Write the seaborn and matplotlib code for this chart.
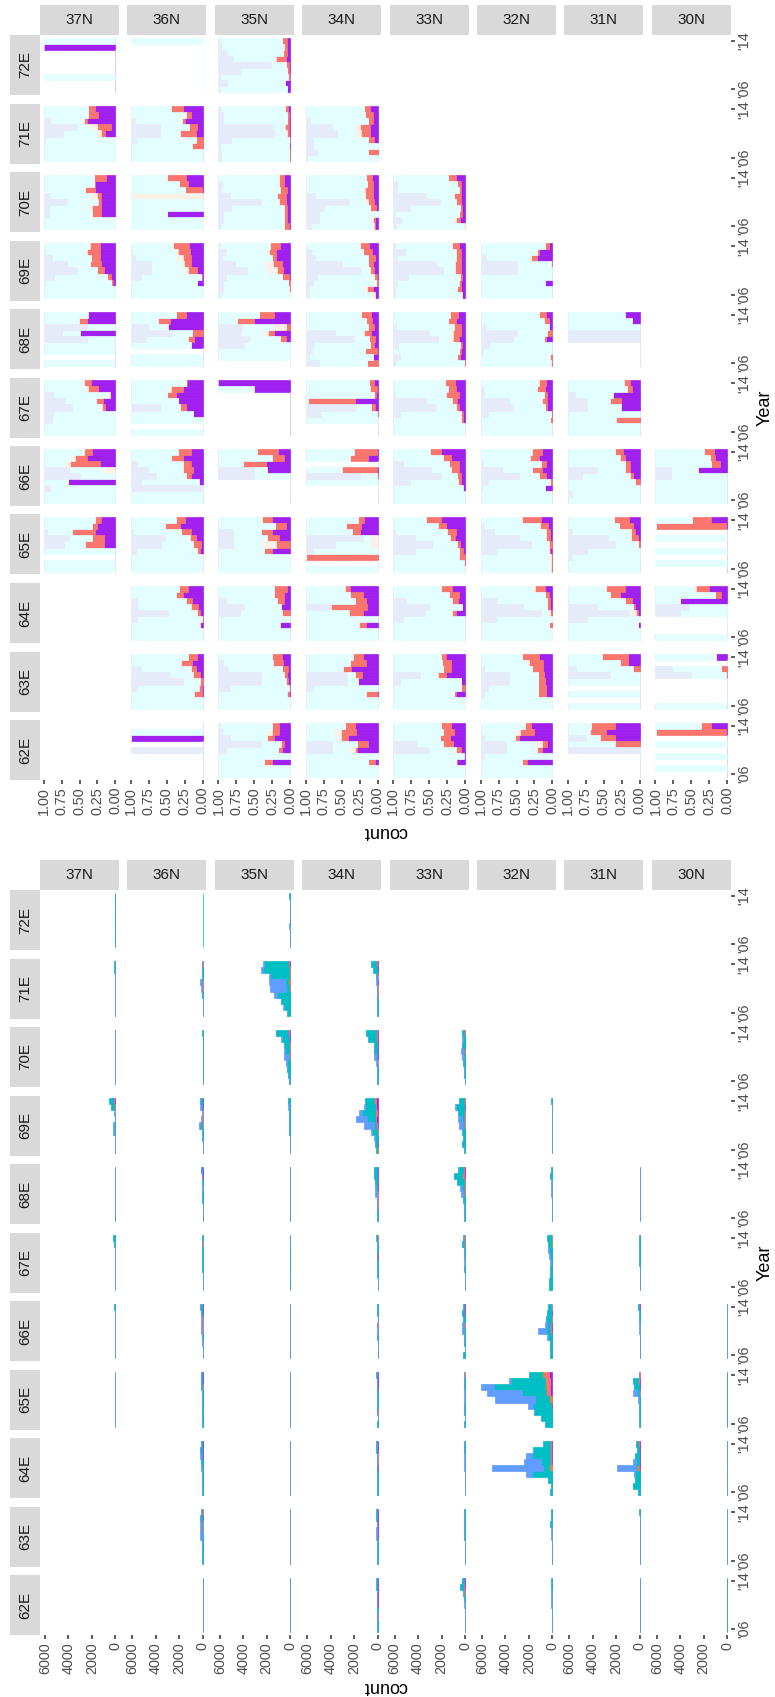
import numpy as np
import pandas as pd
import matplotlib
matplotlib.use("Agg")
import matplotlib.pyplot as plt
import seaborn as sns

sns.set_theme(style="white")
plt.rcParams['font.family'] = ['Liberation Sans', 'DejaVu Sans']

LATS = ["37N", "36N", "35N", "34N", "33N", "32N", "31N", "30N"]
LONS = ["72E", "71E", "70E", "69E", "68E", "67E", "66E", "65E", "64E", "63E", "62E"]
YEARS = [2014, 2013, 2012, 2011, 2010, 2009, 2008, 2007, 2006]
GROUPS = ["g1", "g2", "g3", "g4", "g5"]
COUNT_COLORS = ["#619CFF", "#00BFC4", "#B79F00", "#F8766D", "#A020F0"]
FILL_COLORS = ["#E6EBFA", "#E3FEFE", "#FCF1E6", "#F8766D", "#A020F0"]
COUNT_TICKS = [0, 2000, 4000, 6000]
FILL_TICKS = [0.0, 0.25, 0.5, 0.75, 1.0]

# total count per facet, years 2014 -> 2006
TOTAL = {
    "37N-72E": [3, 2, 0, 0, 0, 0, 2, 0, 0],
    "36N-72E": [2, 0, 0, 0, 0, 0, 0, 0, 0],
    "35N-72E": [90, 60, 50, 40, 60, 70, 30, 30, 20],
    "37N-71E": [120, 100, 40, 30, 30, 20, 20, 20, 20],
    "36N-71E": [80, 40, 40, 200, 150, 30, 20, 20, 15],
    "35N-71E": [2280, 2480, 1800, 1800, 1710, 1370, 790, 575, 290],
    "34N-71E": [540, 430, 120, 120, 90, 80, 36, 27, 18],
    "37N-70E": [60, 40, 40, 40, 40, 40, 40, 20, 20],
    "36N-70E": [30, 20, 20, 5, 10, 10, 10, 10, 10],
    "35N-70E": [1200, 775, 570, 570, 510, 340, 290, 225, 145],
    "34N-70E": [1030, 855, 340, 340, 270, 120, 55, 45, 36],
    "33N-70E": [260, 225, 270, 300, 245, 180, 110, 72, 36],
    "37N-69E": [515, 343, 86, 60, 170, 170, 54, 27, 18],
    "36N-69E": [200, 200, 100, 120, 286, 100, 40, 20, 20],
    "35N-69E": [150, 150, 100, 100, 120, 80, 60, 40, 30],
    "34N-69E": [1115, 1200, 1545, 1830, 1200, 540, 290, 200, 115],
    "33N-69E": [515, 890, 600, 630, 545, 290, 170, 290, 115],
    "32N-69E": [115, 40, 40, 60, 60, 30, 20, 20, 20],
    "37N-68E": [40, 40, 20, 30, 20, 20, 20, 0, 10],
    "36N-68E": [150, 60, 40, 40, 40, 30, 0, 10, 10],
    "35N-68E": [60, 50, 40, 50, 40, 30, 20, 20, 0],
    "34N-68E": [290, 290, 250, 200, 200, 90, 60, 50, 40],
    "33N-68E": [630, 970, 715, 460, 370, 200, 90, 80, 80],
    "32N-68E": [120, 200, 80, 100, 100, 50, 40, 40, 30],
    "31N-68E": [20, 15, 10, 10, 10, 0, 0, 0, 0],
    "37N-67E": [170, 80, 60, 60, 60, 40, 40, 30, 30],
    "36N-67E": [100, 60, 50, 40, 50, 30, 20, 0, 10],
    "35N-67E": [10, 5, 0, 0, 0, 0, 0, 0, 0],
    "34N-67E": [100, 80, 60, 40, 80, 40, 20, 0, 0],
    "33N-67E": [170, 255, 100, 100, 100, 60, 40, 30, 30],
    "32N-67E": [430, 345, 345, 290, 200, 200, 200, 255, 255],
    "31N-67E": [40, 30, 30, 40, 40, 20, 20, 20, 20],
    "37N-66E": [150, 40, 40, 30, 30, 20, 20, 20, 20],
    "36N-66E": [250, 150, 120, 120, 120, 60, 30, 20, 20],
    "35N-66E": [40, 30, 30, 30, 30, 0, 0, 0, 0],
    "34N-66E": [20, 20, 0, 30, 20, 10, 0, 0, 0],
    "33N-66E": [170, 255, 170, 255, 255, 80, 50, 40, 170],
    "32N-66E": [370, 460, 545, 630, 1230, 430, 200, 200, 200],
    "31N-66E": [115, 40, 30, 40, 30, 20, 20, 20, 20],
    "30N-66E": [30, 20, 20, 20, 20, 10, 10, 10, 10],
    "37N-65E": [40, 40, 40, 40, 40, 20, 0, 10, 10],
    "36N-65E": [150, 150, 150, 100, 100, 60, 40, 30, 30],
    "35N-65E": [60, 50, 50, 50, 40, 30, 30, 20, 20],
    "34N-65E": [115, 60, 50, 60, 50, 30, 20, 0, 10],
    "33N-65E": [90, 90, 60, 60, 60, 115, 50, 40, 115],
    "32N-65E": [1970, 3720, 6120, 5600, 4920, 2090, 1545, 970, 630],
    "31N-65E": [90, 600, 515, 600, 115, 60, 40, 30, 30],
    "30N-65E": [20, 15, 0, 5, 0, 5, 0, 5, 0],
    "36N-64E": [150, 200, 200, 150, 150, 80, 50, 40, 30],
    "35N-64E": [40, 40, 40, 40, 40, 20, 20, 20, 20],
    "34N-64E": [115, 115, 50, 60, 50, 40, 30, 20, 20],
    "33N-64E": [100, 100, 50, 60, 60, 40, 30, 30, 20],
    "32N-64E": [770, 1630, 2260, 2430, 5180, 2260, 345, 140, 200],
    "31N-64E": [290, 230, 370, 600, 1915, 515, 370, 545, 115],
    "30N-64E": [20, 15, 10, 10, 10, 0, 0, 0, 5],
    "36N-63E": [150, 200, 200, 250, 250, 100, 60, 40, 30],
    "35N-63E": [60, 60, 50, 60, 60, 40, 30, 20, 20],
    "34N-63E": [100, 100, 80, 100, 100, 60, 40, 30, 20],
    "33N-63E": [100, 100, 100, 70, 60, 40, 30, 20, 20],
    "32N-63E": [140, 140, 200, 80, 80, 60, 60, 40, 40],
    "31N-63E": [30, 20, 20, 20, 10, 0, 10, 0, 10],
    "30N-63E": [10, 0, 10, 10, 0, 0, 0, 0, 5],
    "36N-62E": [0, 5, 3, 0, 5, 0, 0, 0, 0],
    "35N-62E": [40, 40, 40, 50, 40, 20, 20, 20, 20],
    "34N-62E": [170, 115, 80, 80, 80, 86, 86, 30, 20],
    "33N-62E": [255, 430, 170, 86, 60, 30, 30, 20, 20],
    "32N-62E": [115, 115, 80, 100, 80, 40, 60, 40, 60],
    "31N-62E": [20, 20, 15, 10, 10, 0, 0, 0, 0],
    "30N-62E": [10, 10, 0, 5, 0, 5, 0, 5, 0],
}

# percent of each bin in group g1 (blue / lavender)
PCT_G1 = {
    "35N-72E": [2, 4, 12, 20, 73, 30, 2, 12, 2],
    "37N-71E": [0, 0, 9, 47, 27, 2, 0, 0, 0],
    "36N-71E": [0, 0, 5, 40, 40, 7, 0, 0, 0],
    "35N-71E": [2, 7, 6, 75, 78, 17, 2, 3, 3],
    "34N-71E": [0, 0, 6, 36, 43, 10, 10, 15, 2],
    "37N-70E": [0, 0, 0, 9, 32, 8, 8, 0, 0],
    "35N-70E": [0, 5, 4, 16, 60, 17, 7, 7, 2],
    "34N-70E": [0, 0, 0, 13, 60, 25, 18, 18, 7],
    "33N-70E": [0, 6, 5, 45, 65, 24, 3, 11, 4],
    "37N-69E": [0, 2, 12, 32, 47, 14, 2, 0, 0],
    "36N-69E": [0, 2, 5, 28, 28, 14, 0, 0, 0],
    "35N-69E": [2, 10, 5, 23, 40, 10, 7, 7, 2],
    "34N-69E": [0, 7, 13, 50, 76, 15, 10, 5, 4],
    "33N-69E": [2, 16, 5, 60, 70, 20, 5, 3, 3],
    "32N-69E": [0, 0, 8, 50, 50, 0, 0, 0, 0],
    "37N-68E": [0, 0, 60, 26, 60, 0, 0, 0, 0],
    "36N-68E": [0, 0, 24, 56, 21, 0, 0, 0, 0],
    "35N-68E": [0, 0, 33, 31, 42, 36, 0, 0, 0],
    "34N-68E": [0, 0, 0, 40, 67, 10, 8, 5, 18],
    "33N-68E": [0, 0, 4, 50, 63, 6, 0, 10, 2],
    "32N-68E": [0, 0, 8, 50, 45, 12, 4, 0, 0],
    "31N-68E": [0, 0, 0, 100, 100, 0, 0, 0, 0],
    "37N-67E": [0, 0, 13, 30, 40, 13, 12, 0, 0],
    "36N-67E": [0, 0, 0, 0, 41, 0, 0, 0, 0],
    "34N-67E": [0, 0, 0, 0, 70, 21, 0, 0, 0],
    "33N-67E": [0, 0, 3, 45, 60, 10, 0, 0, 0],
    "32N-67E": [0, 3, 5, 40, 45, 10, 0, 0, 0],
    "31N-67E": [0, 0, 10, 26, 26, 0, 0, 0, 0],
    "37N-66E": [0, 0, 0, 35, 50, 0, 9, 0, 0],
    "36N-66E": [0, 0, 8, 24, 35, 14, 100, 0, 0],
    "35N-66E": [0, 0, 0, 50, 50, 0, 0, 0, 0],
    "34N-66E": [0, 0, 0, 0, 76, 0, 0, 0, 0],
    "33N-66E": [0, 0, 14, 52, 66, 23, 0, 0, 0],
    "32N-66E": [0, 0, 3, 30, 53, 10, 2, 0, 0],
    "31N-66E": [0, 0, 0, 41, 20, 0, 0, 6, 0],
    "30N-66E": [0, 0, 0, 22, 22, 0, 0, 0, 0],
    "37N-65E": [0, 0, 5, 35, 29, 0, 0, 0, 0],
    "36N-65E": [0, 0, 3, 47, 42, 7, 0, 0, 0],
    "35N-65E": [0, 0, 20, 20, 20, 0, 0, 0, 0],
    "34N-65E": [0, 0, 0, 80, 41, 10, 0, 0, 0],
    "33N-65E": [0, 0, 3, 30, 54, 30, 0, 0, 0],
    "32N-65E": [0, 5, 18, 54, 70, 22, 0, 0, 0],
    "31N-65E": [0, 0, 5, 56, 65, 27, 5, 0, 0],
    "36N-64E": [0, 0, 8, 8, 52, 8, 0, 0, 0],
    "35N-64E": [0, 0, 11, 35, 30, 0, 0, 0, 0],
    "34N-64E": [0, 0, 0, 34, 0, 0, 0, 0, 0],
    "33N-64E": [0, 0, 18, 50, 44, 13, 0, 0, 0],
    "32N-64E": [0, 0, 23, 59, 84, 22, 0, 0, 0],
    "31N-64E": [0, 0, 0, 40, 85, 27, 0, 0, 0],
    "30N-64E": [0, 0, 0, 45, 34, 0, 0, 0, 0],
    "36N-63E": [0, 0, 14, 55, 72, 8, 0, 0, 0],
    "35N-63E": [0, 6, 14, 60, 60, 16, 0, 0, 0],
    "34N-63E": [0, 0, 0, 57, 57, 10, 0, 0, 0],
    "33N-63E": [0, 0, 0, 37, 10, 0, 0, 0, 0],
    "32N-63E": [0, 0, 5, 40, 40, 10, 5, 0, 0],
    "31N-63E": [0, 0, 11, 59, 0, 0, 0, 0, 0],
    "30N-63E": [0, 0, 23, 50, 0, 0, 0, 0, 0],
    "36N-62E": [0, 0, 0, 0, 100, 0, 0, 0, 0],
    "35N-62E": [2, 5, 16, 60, 10, 0, 0, 0, 0],
    "34N-62E": [0, 0, 0, 36, 36, 0, 0, 0, 0],
    "33N-62E": [0, 0, 0, 32, 50, 0, 0, 0, 0],
    "32N-62E": [0, 0, 5, 35, 35, 5, 0, 0, 0],
    "31N-62E": [0, 0, 25, 0, 100, 0, 0, 0, 0],
}

# percent in group g3 (olive / linen)
PCT_G3 = {
    "35N-72E": [0, 0, 0, 4, 0, 0, 0, 0, 0],
    "37N-71E": [0, 0, 3, 12, 7, 0, 0, 0, 0],
    "35N-71E": [0, 0, 0, 2, 2, 0, 0, 0, 0],
    "34N-71E": [0, 0, 0, 6, 8, 0, 0, 0, 0],
    "37N-70E": [0, 0, 0, 8, 2, 7, 0, 0, 0],
    "36N-70E": [0, 0, 0, 100, 0, 0, 0, 0, 0],
    "34N-70E": [0, 0, 5, 0, 5, 0, 0, 4, 3],
    "33N-70E": [0, 0, 0, 0, 0, 0, 0, 5, 3],
    "37N-69E": [2, 4, 0, 0, 0, 0, 0, 0, 0],
    "36N-69E": [0, 4, 10, 4, 6, 0, 0, 0, 0],
    "35N-69E": [0, 3, 0, 14, 13, 0, 0, 0, 0],
    "34N-69E": [0, 0, 0, 0, 0, 0, 0, 5, 6],
    "35N-68E": [0, 0, 20, 10, 0, 0, 0, 0, 0],
    "34N-68E": [0, 0, 0, 3, 0, 0, 0, 0, 0],
    "33N-68E": [0, 0, 0, 2, 5, 0, 0, 0, 0],
    "32N-67E": [2, 2, 0, 2, 0, 0, 0, 2, 2],
    "37N-67E": [0, 4, 5, 0, 2, 0, 0, 0, 0],
    "36N-67E": [0, 5, 0, 0, 0, 0, 0, 0, 0],
    "37N-66E": [0, 7, 8, 16, 0, 0, 0, 0, 0],
    "35N-65E": [0, 0, 0, 0, 20, 0, 0, 0, 0],
    "34N-65E": [0, 0, 0, 10, 10, 0, 0, 0, 0],
    "32N-65E": [2, 1, 1, 1, 1, 1, 1, 1, 1],
    "32N-64E": [5, 0, 0, 0, 2, 0, 0, 0, 0],
    "31N-64E": [0, 0, 0, 0, 8, 0, 0, 0, 0],
    "30N-64E": [4, 0, 0, 0, 0, 0, 0, 0, 0],
    "33N-63E": [0, 0, 0, 2, 0, 0, 0, 0, 0],
    "32N-63E": [0, 2, 0, 0, 0, 0, 0, 0, 0],
    "35N-62E": [0, 6, 0, 3, 0, 0, 0, 0, 0],
    "34N-62E": [0, 10, 6, 0, 8, 0, 0, 0, 0],
    "32N-62E": [0, 8, 0, 12, 0, 0, 0, 0, 0],
}

# percent in group g4 (salmon)
PCT_G4 = {
    "35N-72E": [7, 4, 5, 14, 4, 3, 3, 0, 0],
    "37N-71E": [9, 14, 5, 19, 6, 0, 0, 0, 0],
    "36N-71E": [17, 7, 4, 11, 22, 9, 15, 0, 0],
    "35N-71E": [4, 3, 2, 5, 4, 2, 0, 1, 2],
    "34N-71E": [9, 10, 7, 14, 13, 9, 0, 13, 0],
    "37N-70E": [17, 2, 14, 6, 4, 12, 13, 0, 0],
    "36N-70E": [26, 12, 24, 0, 0, 0, 0, 0, 0],
    "35N-70E": [7, 8, 9, 12, 9, 5, 5, 5, 7],
    "34N-70E": [8, 8, 10, 11, 8, 8, 0, 3, 2],
    "33N-70E": [12, 6, 4, 9, 7, 3, 4, 6, 0],
    "37N-69E": [14, 18, 13, 15, 9, 6, 2, 0, 0],
    "36N-69E": [22, 17, 10, 9, 13, 1, 0, 0, 0],
    "35N-69E": [14, 10, 6, 13, 9, 10, 3, 1, 0],
    "34N-69E": [13, 12, 10, 8, 6, 4, 2, 9, 0],
    "33N-69E": [10, 7, 6, 8, 9, 3, 4, 6, 0],
    "32N-69E": [5, 4, 9, 2, 1, 0, 0, 0, 0],
    "37N-68E": [0, 12, 0, 1, 0, 0, 0, 0, 0],
    "36N-68E": [13, 18, 0, 15, 9, 0, 0, 0, 0],
    "35N-68E": [20, 24, 6, 8, 8, 0, 0, 0, 0],
    "34N-68E": [14, 8, 9, 10, 9, 6, 16, 0, 15],
    "33N-68E": [11, 11, 10, 12, 9, 3, 3, 4, 1],
    "32N-68E": [10, 7, 0, 7, 3, 0, 0, 4, 2],
    "37N-67E": [10, 14, 0, 10, 3, 0, 0, 0, 0],
    "36N-67E": [2, 17, 13, 0, 8, 0, 0, 0, 0],
    "34N-67E": [7, 9, 3, 66, 6, 1, 0, 0, 0],
    "33N-67E": [14, 10, 17, 7, 3, 3, 3, 0, 0],
    "32N-67E": [10, 11, 4, 6, 4, 2, 2, 0, 0],
    "31N-67E": [9, 7, 0, 15, 0, 0, 33, 0, 0],
    "37N-66E": [11, 17, 42, 0, 0, 0, 0, 0, 0],
    "36N-66E": [17, 17, 10, 14, 6, 0, 0, 0, 0],
    "35N-66E": [29, 16, 32, 0, 0, 0, 0, 0, 0],
    "34N-66E": [32, 24, 0, 48, 1, 0, 0, 0, 0],
    "33N-66E": [15, 11, 13, 10, 5, 5, 0, 0, 0],
    "32N-66E": [13, 13, 7, 14, 10, 2, 0, 0, 0],
    "31N-66E": [11, 8, 6, 6, 5, 7, 0, 0, 0],
    "30N-66E": [13, 7, 12, 0, 0, 0, 0, 0, 0],
    "37N-65E": [8, 6, 32, 17, 26, 0, 0, 0, 0],
    "36N-65E": [13, 20, 13, 8, 11, 4, 0, 0, 0],
    "35N-65E": [13, 15, 15, 16, 20, 10, 0, 0, 0],
    "34N-65E": [9, 21, 10, 0, 0, 0, 100, 0, 0],
    "33N-65E": [20, 11, 13, 7, 4, 5, 9, 1, 0],
    "32N-65E": [26, 11, 6, 6, 4, 1, 1, 1, 1],
    "31N-65E": [21, 20, 5, 9, 3, 0, 0, 0, 0],
    "30N-65E": [26, 98, 0, 0, 0, 0, 0, 0, 0],
    "36N-64E": [13, 11, 8, 10, 4, 1, 0, 0, 0],
    "35N-64E": [18, 15, 10, 0, 11, 0, 0, 0, 0],
    "34N-64E": [8, 17, 15, 50, 20, 0, 10, 0, 0],
    "33N-64E": [16, 13, 8, 0, 6, 0, 0, 0, 0],
    "32N-64E": [13, 5, 4, 3, 4, 0, 4, 1, 0],
    "31N-64E": [27, 13, 9, 3, 3, 0, 0, 0, 0],
    "30N-64E": [17, 8, 0, 0, 0, 0, 0, 0, 0],
    "36N-63E": [13, 15, 7, 10, 4, 4, 11, 0, 0],
    "35N-63E": [14, 14, 8, 5, 3, 2, 3, 0, 0],
    "34N-63E": [13, 22, 11, 10, 0, 0, 15, 0, 0],
    "33N-63E": [7, 13, 11, 11, 0, 5, 4, 0, 0],
    "32N-63E": [24, 20, 15, 8, 10, 11, 11, 0, 0],
    "31N-63E": [36, 11, 10, 0, 0, 0, 0, 0, 0],
    "30N-63E": [0, 0, 8, 1, 0, 0, 0, 0, 0],
    "35N-62E": [10, 10, 9, 4, 6, 0, 10, 0, 0],
    "34N-62E": [15, 21, 10, 15, 3, 0, 10, 0, 0],
    "33N-62E": [15, 14, 14, 14, 7, 0, 2, 0, 0],
    "32N-62E": [8, 19, 5, 7, 7, 0, 6, 0, 0],
    "31N-62E": [34, 22, 22, 34, 0, 0, 0, 0, 0],
    "30N-62E": [13, 98, 0, 0, 0, 0, 0, 0, 0],
}

# percent in group g5 (purple)
PCT_G5 = {
    "37N-72E": [0, 100, 0, 0, 0, 0, 0, 0, 0],
    "35N-72E": [5, 5, 5, 6, 2, 2, 0, 7, 5],
    "37N-71E": [29, 24, 39, 6, 14, 0, 0, 0, 0],
    "36N-71E": [27, 16, 25, 8, 10, 0, 0, 0, 0],
    "35N-71E": [3, 2, 2, 2, 1, 0, 1, 0, 0],
    "34N-71E": [10, 7, 7, 11, 10, 5, 0, 0, 0],
    "37N-70E": [13, 28, 28, 20, 20, 20, 20, 0, 0],
    "36N-70E": [24, 21, 1, 0, 0, 0, 50, 0, 0],
    "35N-70E": [8, 8, 5, 6, 6, 4, 4, 4, 2],
    "34N-70E": [8, 7, 7, 6, 5, 2, 0, 4, 3],
    "33N-70E": [12, 5, 5, 6, 6, 4, 4, 7, 0],
    "37N-69E": [22, 22, 21, 20, 16, 6, 4, 0, 0],
    "36N-69E": [19, 18, 17, 17, 8, 1, 8, 0, 0],
    "35N-69E": [14, 20, 20, 11, 10, 1, 0, 0, 0],
    "34N-69E": [12, 8, 3, 6, 5, 1, 0, 6, 3],
    "33N-69E": [8, 5, 6, 6, 5, 4, 5, 5, 4],
    "32N-69E": [5, 18, 21, 0, 0, 0, 10, 0, 0],
    "37N-68E": [38, 39, 0, 49, 0, 0, 0, 0, 0],
    "36N-68E": [24, 45, 48, 0, 12, 16, 0, 0, 0],
    "35N-68E": [23, 50, 0, 23, 6, 0, 0, 0, 0],
    "34N-68E": [9, 8, 5, 9, 3, 5, 1, 7, 0],
    "33N-68E": [10, 12, 6, 5, 8, 4, 5, 7, 0],
    "32N-68E": [9, 5, 5, 0, 9, 0, 0, 0, 0],
    "31N-68E": [20, 11, 0, 0, 0, 0, 0, 0, 0],
    "37N-67E": [34, 24, 7, 17, 15, 0, 0, 0, 0],
    "36N-67E": [22, 27, 37, 35, 24, 13, 0, 0, 0],
    "35N-67E": [100, 50, 0, 0, 0, 0, 0, 0, 0],
    "34N-67E": [5, 1, 2, 31, 3, 0, 0, 0, 0],
    "33N-67E": [14, 13, 9, 11, 9, 3, 3, 0, 0],
    "32N-67E": [9, 10, 8, 8, 7, 0, 1, 0, 0],
    "31N-67E": [13, 11, 37, 26, 26, 0, 0, 0, 0],
    "37N-66E": [33, 39, 21, 0, 0, 66, 0, 0, 0],
    "36N-66E": [17, 27, 17, 14, 17, 5, 0, 0, 0],
    "35N-66E": [17, 9, 34, 32, 0, 0, 0, 0, 0],
    "34N-66E": [1, 14, 0, 1, 0, 0, 0, 0, 0],
    "33N-66E": [34, 20, 9, 9, 6, 5, 3, 0, 0],
    "32N-66E": [15, 18, 9, 15, 9, 1, 11, 0, 0],
    "31N-66E": [23, 20, 14, 14, 9, 0, 0, 0, 0],
    "30N-66E": [19, 17, 10, 40, 0, 0, 0, 0, 0],
    "37N-65E": [20, 26, 28, 16, 16, 0, 0, 0, 0],
    "36N-65E": [25, 32, 17, 10, 3, 4, 0, 0, 0],
    "35N-65E": [26, 6, 26, 16, 0, 26, 0, 0, 0],
    "34N-65E": [19, 23, 25, 0, 0, 0, 0, 0, 0],
    "33N-65E": [34, 26, 12, 14, 7, 3, 0, 0, 0],
    "32N-65E": [16, 6, 3, 3, 1, 4, 1, 1, 1],
    "31N-65E": [15, 9, 7, 3, 0, 0, 0, 0, 0],
    "30N-65E": [23, 1, 0, 0, 0, 0, 0, 0, 0],
    "36N-64E": [20, 27, 15, 7, 4, 0, 4, 0, 0],
    "35N-64E": [5, 8, 9, 13, 0, 0, 14, 0, 0],
    "34N-64E": [38, 21, 16, 15, 20, 0, 16, 0, 0],
    "33N-64E": [18, 9, 10, 4, 12, 0, 0, 0, 0],
    "32N-64E": [11, 5, 4, 4, 0, 0, 1, 0, 0],
    "31N-64E": [20, 28, 11, 7, 3, 0, 2, 0, 0],
    "30N-64E": [26, 9, 66, 0, 0, 0, 0, 0, 0],
    "36N-63E": [8, 15, 10, 4, 0, 1, 1, 0, 0],
    "35N-63E": [12, 10, 3, 4, 3, 0, 2, 0, 0],
    "34N-63E": [21, 16, 37, 22, 28, 0, 1, 0, 0],
    "33N-63E": [26, 19, 19, 26, 6, 0, 12, 0, 0],
    "32N-63E": [18, 13, 13, 12, 10, 9, 9, 0, 0],
    "31N-63E": [17, 17, 0, 0, 0, 0, 0, 0, 0],
    "30N-63E": [16, 0, 0, 0, 0, 0, 0, 0, 0],
    "36N-62E": [0, 0, 100, 0, 0, 0, 0, 0, 0],
    "35N-62E": [16, 16, 23, 9, 11, 0, 26, 0, 0],
    "34N-62E": [31, 30, 41, 14, 29, 0, 3, 0, 0],
    "33N-62E": [19, 16, 21, 17, 6, 2, 11, 0, 0],
    "32N-62E": [30, 26, 47, 8, 15, 0, 36, 0, 0],
    "31N-62E": [34, 47, 34, 0, 0, 0, 0, 0, 0],
    "30N-62E": [23, 1, 0, 0, 0, 0, 0, 0, 0],
}

# ---------------- build long table ----------------
rows = []
for key, tot in TOTAL.items():
    lat, lon = key.split("-")
    z = [0] * len(YEARS)
    g1 = PCT_G1.get(key, z)
    g3 = PCT_G3.get(key, z)
    g4 = PCT_G4.get(key, z)
    g5 = PCT_G5.get(key, z)
    for k, yr in enumerate(YEARS):
        t = tot[k]
        if t <= 0:
            continue
        pcts = [g1[k], 0, g3[k], g4[k], g5[k]]
        pcts[1] = max(0, 100 - sum(pcts))
        s = float(sum(pcts))
        for g, p in zip(GROUPS, pcts):
            if p > 0:
                rows.append((lat, lon, yr, g, t * p / s, p / s))
df = pd.DataFrame(rows, columns=["lat", "lon", "year", "group", "n", "share"])

EDGES = [2005.5 + k for k in range(10)]
XMAX = max(max(v) for v in TOTAL.values())

# ---------------- layout (pixels) ----------------
W, H = 775.0, 1697.0
PX0, PDX, PW = 40.0, 87.4, 79.0
PY0, PDY, PH = 35.0, 68.5, 60.0
STRIP = 30.0

fig = plt.figure(figsize=(W / 100, H / 100), dpi=100)
fig.patch.set_facecolor("white")


def add_ax(x, y, w, h):
    return fig.add_axes([x / W, 1 - (y + h) / H, w / W, h / H])


def draw_chart(off, weight_col, palette, lim, ticks, ticklabels):
    pal = dict(zip(GROUPS, palette))
    for i, lat in enumerate(LATS):
        sx = add_ax(PX0 + PDX * i, off + PY0 - STRIP, PW, STRIP)
        sx.set_facecolor("#D9D9D9")
        sx.set_xticks([]); sx.set_yticks([])
        for s in sx.spines.values():
            s.set_visible(False)
        sx.text(0.5, 0.5, lat, ha="center", va="center", fontsize=11,
                color="#1A1A1A", transform=sx.transAxes)
    for j, lon in enumerate(LONS):
        sx = add_ax(PX0 - STRIP, off + PY0 + PDY * j, STRIP, PH)
        sx.set_facecolor("#D9D9D9")
        sx.set_xticks([]); sx.set_yticks([])
        for s in sx.spines.values():
            s.set_visible(False)
        sx.text(0.5, 0.5, lon, ha="center", va="center", fontsize=11,
                rotation=90, color="#1A1A1A", transform=sx.transAxes)

    for i, lat in enumerate(LATS):
        for j, lon in enumerate(LONS):
            ax = add_ax(PX0 + PDX * i, off + PY0 + PDY * j, PW, PH)
            ax.set_facecolor("white")
            sub = df[(df.lat == lat) & (df.lon == lon)]
            if len(sub):
                sns.histplot(data=sub, y="year", weights=weight_col, hue="group",
                             hue_order=GROUPS, palette=pal, multiple="stack",
                             bins=EDGES, alpha=1, linewidth=0.5, legend=False, ax=ax)
                for p in ax.patches:
                    p.set_edgecolor(p.get_facecolor())
            ax.set_xlabel(""); ax.set_ylabel("")
            ax.set_ylim(2005.5 - 0.45, 2014.5 + 0.45)
            ax.set_xlim(lim * 1.05, -lim * 0.05)
            for s in ax.spines.values():
                s.set_visible(False)
            ax.grid(False)
            ax.set_yticks([2006, 2014])
            ax.set_xticks(ticks)
            if i == len(LATS) - 1:
                ax.yaxis.tick_right()
                ax.set_yticklabels(["'06", "'14"], rotation=90, va="center")
                ax.tick_params(axis="y", right=True, left=False, labelright=True,
                               labelleft=False, length=3, width=1.1,
                               color="#333333", labelsize=10.4,
                               labelcolor="#4D4D4D", pad=2)
            else:
                ax.tick_params(axis="y", left=False, right=False,
                               labelleft=False, labelright=False)
            if j == len(LONS) - 1:
                ax.set_xticklabels(ticklabels, rotation=90, ha="center", va="top")
                ax.tick_params(axis="x", bottom=True, labelbottom=True, length=3,
                               width=1.1, color="#333333", labelsize=10.4,
                               labelcolor="#4D4D4D", pad=2)
            else:
                ax.tick_params(axis="x", bottom=False, labelbottom=False)

    fig.text((PX0 + PX0 + PDX * 7 + PW) / 2 / W, 1 - (off + 831) / H, "count",
             rotation=180, ha="center", va="center", fontsize=13, color="black")
    fig.text(765 / W, 1 - (off + PY0 + (PDY * 10 + PH) / 2) / H, "Year",
             rotation=90, ha="center", va="center", fontsize=13, color="black")


draw_chart(0, "share", FILL_COLORS, 1.0, FILL_TICKS,
           ["0.00", "0.25", "0.50", "0.75", "1.00"])
draw_chart(855, "n", COUNT_COLORS, XMAX, COUNT_TICKS,
           [str(t) for t in COUNT_TICKS])

fig.savefig("out.png", dpi=100, facecolor="white")
